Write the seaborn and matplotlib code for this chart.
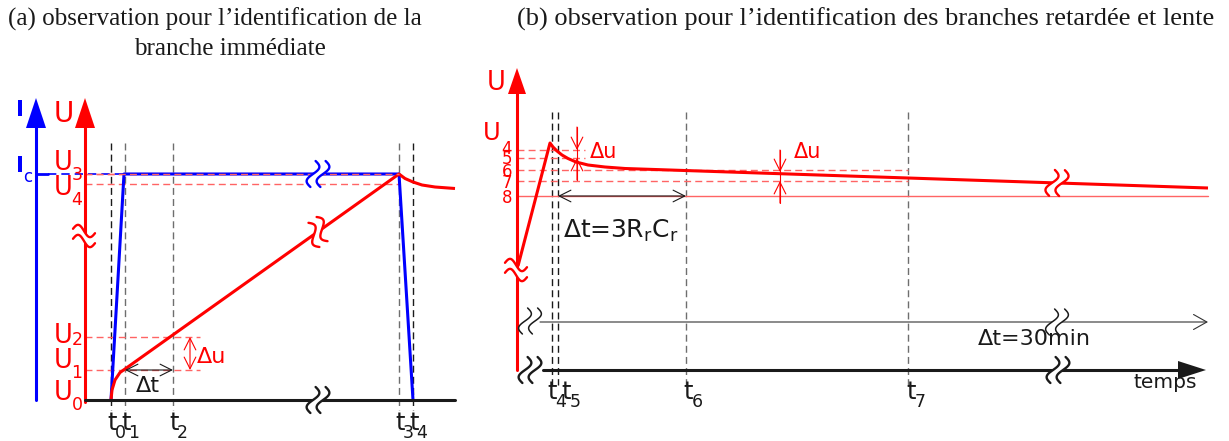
import numpy as np
import pandas as pd
import matplotlib
matplotlib.use("Agg")
import matplotlib.pyplot as plt
import seaborn as sns

RED = "#ff0000"
BLUE = "#0000ff"
LRED = "#ff6464"
GREY = "#6e6e6e"

# ---------------- panel (a) : positions (pixels)
ta_x = [111, 125, 173, 399, 413]          # t0..t4
ta_lab = ["0", "1", "2", "3", "4"]
ta_col = ["k", GREY, GREY, GREY, "k"]
ua_lab = ["0", "1", "2", "3", "4"]
ua_y = [400, 370, 337, 174, 184]          # U0..U4
ua_end = [85, 200, 200, 399, 399]         # right end of the dashed levels

curve_a_x = [111, 112, 115, 120, 125, 399, 405, 413, 422, 435, 455]
curve_a_y = [400, 390, 380, 372.5, 369, 174, 178.5, 182, 185, 187, 188.5]
current_x = [111, 124, 399, 413]
current_y = [400, 174, 174, 400]

# ---------------- panel (b)
tb_x = [552, 558, 686, 908]               # t4..t7
tb_lab = ["4", "5", "6", "7"]
tb_txt = [552, 566, 688, 911]
tb_col = ["k", "k", GREY, GREY]
ub_lab = ["4", "5", "6", "7", "8"]
ub_y = [150, 158, 170, 181, 196]
ub_end = [585, 585, 908, 908, 1208]

curve_b_x = [518, 550, 553, 557, 562, 568, 576, 588, 605, 625, 908, 1208]
curve_b_y = [266, 143, 147, 151, 155, 158.5, 162, 165, 167, 168.5, 178, 188]

sns.set_theme(style="white")
plt.rcParams["font.family"] = ["DejaVu Sans"]
plt.rcParams["mathtext.fontset"] = "dejavusans"
plt.rcParams["mathtext.default"] = "regular"

fig = plt.figure(figsize=(12.29, 4.41), dpi=100)
ax = fig.add_axes([0, 0, 1, 1])


def curve(xs, ys, color, lw=2.2, z=3):
    df = pd.DataFrame({"x": xs, "y": ys})
    sns.lineplot(data=df, x="x", y="y", sort=False, estimator=None,
                 color=color, lw=lw, ax=ax, zorder=z, solid_capstyle="butt")


def guide(xs, ys, color, lw=0.9, z=1, dashed=True):
    ax.plot(xs, ys, color=color, lw=lw, zorder=z,
            ls=(0, (5, 3)) if dashed else "-")


def head(xt, yt, dx, dy, length, half, color):
    # filled arrow head, tip at (xt, yt), pointing along (dx, dy)
    bx, by = xt - dx * length, yt - dy * length
    ax.fill([xt, bx - dy * half, bx + dy * half], [yt, by + dx * half, by - dx * half],
            color=color, lw=0, zorder=4)


def dim(x0, y0, x1, y1, color, style="<->", lw=0.8):
    ax.annotate("", xy=(x1, y1), xytext=(x0, y0),
                arrowprops=dict(arrowstyle=style + ",head_length=0.7,head_width=0.35",
                                color=color, lw=lw, shrinkA=0, shrinkB=0,
                                mutation_scale=12), zorder=5)


def brk(xc, yc, color, ang=0.0, lw=1.7, L=26, A=5.0, gap=10, lean=0.2):
    # "break" symbol: two wavy strokes across a line, with a white gap between
    e = np.array([np.cos(np.radians(ang)), -np.sin(np.radians(ang))])
    n = np.array([-e[1], e[0]])
    s = np.linspace(0, 1, 60)
    along = (s - 0.5) * L
    across = A * np.sin(2 * np.pi * s) - lean * along
    pts = []
    for off in (-gap / 2, gap / 2):
        px = xc + (off + across) * e[0] + along * n[0]
        py = yc + (off + across) * e[1] + along * n[1]
        pts.append((px, py))
    ax.fill(np.r_[pts[0][0], pts[1][0][::-1]], np.r_[pts[0][1], pts[1][1][::-1]],
            color="white", lw=0, zorder=5)
    for px, py in pts:
        ax.plot(px, py, color=color, lw=lw, zorder=6, solid_capstyle="round")


def txt(x, y, s, size, color="k", ha="center", va="baseline", **kw):
    ax.text(x, y, s, fontsize=size, color=color, ha=ha, va=va, zorder=7, **kw)


# ======================= panel (a)
for x, c in zip(ta_x, ta_col):
    guide([x, x], [143, 410], c, lw=1.0)
for y, xe, lab in zip(ua_y, ua_end, ua_lab):
    if xe > 85:
        guide([85, xe], [y, y], LRED, lw=1.0, z=2)
guide([36, 48], [174, 174], BLUE, lw=2.0, dashed=False)
guide([48, 124], [174, 174], BLUE, lw=1.2, z=2)

curve(current_x, current_y, BLUE)
ax.plot([85, 399], [174, 174], color=LRED, lw=1.0, ls=(0, (5, 3)), zorder=3.5)
curve(curve_a_x, curve_a_y, RED)

# axes
ax.plot([36, 36], [400, 125], color=BLUE, lw=2.2, zorder=4)
head(36, 98, 0, -1, 30, 10, BLUE)
ax.plot([85, 85], [402, 125], color=RED, lw=2.2, zorder=4)
head(85, 98, 0, -1, 30, 10, RED)
ax.plot([85, 455], [400, 400], color="k", lw=2.2, zorder=4)

brk(318, 174, BLUE)
brk(318, 232, RED, ang=35.6)
brk(318, 400, "k")
brk(84, 236, RED, ang=90, L=22)

dim(125, 370, 173, 370, "k")
dim(190, 337, 190, 370, RED)

txt(20, 116, "I", 15.5, BLUE, fontweight="bold")
txt(20.5, 172, "I", 15.5, BLUE, fontweight="bold")
txt(28, 182, "c", 12, BLUE)
txt(64, 122, "U", 20, RED)
ua_sub_y = [410, 378, 345, 180, 205]
ua_u_y = [400, 368, 343, 170, 195]
for lab, yu, ys in zip(ua_lab, ua_u_y, ua_sub_y):
    txt(63, yu, "U", 18.5, RED)
    txt(77, ys, lab, 12.5, RED)
for x, lab in zip(ta_x, ta_lab):
    txt(x + 1, 430, "t", 17.5)
    txt(x + 9, 438, lab, 12.5)
txt(148, 392, "Δt", 16)
txt(212, 363, "Δu", 16, RED)

txt(215, 26, "(a) observation pour l’identification de la", 18.1,
    family="Liberation Serif")
txt(230, 55, "branche immédiate", 18.1, family="Liberation Serif")

# ======================= panel (b)
for x, c in zip(tb_x, tb_col):
    guide([x, x], [112, 385], c, lw=1.0)
for y, xe in zip(ub_y, ub_end):
    guide([517, xe], [y, y], LRED, lw=1.0, z=2, dashed=(y != 196))

curve(curve_b_x, curve_b_y, RED)
ax.plot([517, 517], [370, 90], color=RED, lw=2.2, zorder=4)
head(517, 68, 0, -1, 26, 9, RED)
ax.plot([543, 1180], [370, 370], color="k", lw=2.2, zorder=4)
head(1206, 370, 1, 0, 28, 9, "k")
ax.annotate("", xy=(1208, 322), xytext=(540, 322),
            arrowprops=dict(arrowstyle="->,head_length=0.8,head_width=0.45",
                            color="#333333", lw=0.8, shrinkA=0, shrinkB=0,
                            mutation_scale=12), zorder=4)

brk(516, 270, RED, ang=90, L=22)
brk(1057, 183, RED, ang=-1.3)
brk(530, 321, "k", lw=1.1)
brk(530, 370, "k")
brk(1057, 322, "k", lw=1.1)
brk(1058, 370, "k")

dim(558, 196, 686, 196, "k")
ax.plot([577, 577], [127, 180], color=RED, lw=0.8, zorder=5)
dim(577, 127, 577, 150, RED, style="->")
dim(577, 180, 577, 158, RED, style="->")
ax.plot([780, 780], [150, 203], color=RED, lw=0.8, zorder=5)
dim(780, 150, 780, 172, RED, style="->")
dim(780, 203, 780, 181, RED, style="->")

txt(496, 90, "U", 18.5, RED)
txt(492, 140, "U", 17.5, RED)
ub_lab_y = [154, 164, 177, 188, 203]
for lab, y in zip(ub_lab, ub_lab_y):
    txt(507, y, lab, 12, RED)
for xt, lab in zip(tb_txt, tb_lab):
    txt(xt, 399, "t", 17.5)
    txt(xt + 9, 407, lab, 12.5)
txt(604, 158, "Δu", 15, RED)
txt(808, 158, "Δu", 15, RED)
txt(563, 238, r"Δt=3R$_r$C$_r$", 18, ha="left")
txt(978, 345, "Δt=30min", 16, ha="left")
txt(1133, 388, "temps", 14.5, ha="left")
txt(866, 26, "(b) observation pour l’identification des branches retardée et lente", 19.0,
    family="Liberation Serif")

ax.set_xlim(0, 1229)
ax.set_ylim(441, 0)
ax.axis("off")
fig.savefig("out.png", dpi=100, facecolor="white")
